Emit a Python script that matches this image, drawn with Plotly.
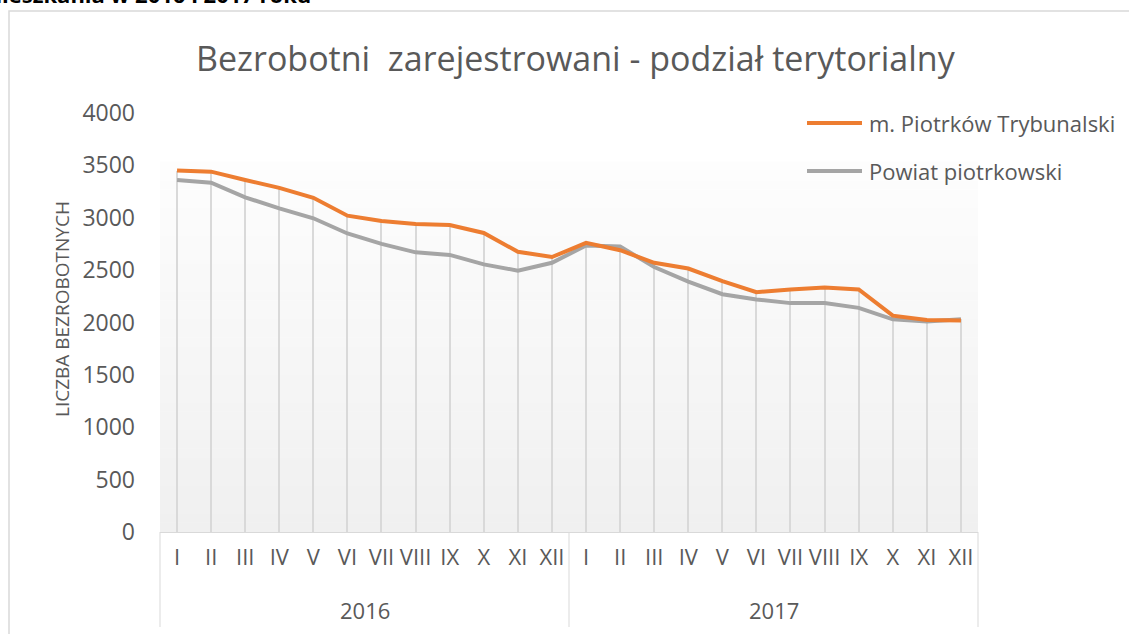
import plotly.graph_objects as go

# ---------------- data ----------------
years = ["2016"] * 12 + ["2017"] * 12
months = ["I", "II", "III", "IV", "V", "VI", "VII", "VIII", "IX", "X", "XI", "XII"] * 2
piotrkow = [3450, 3440, 3360, 3285, 3190, 3020, 2970, 2940, 2930, 2855, 2675, 2625,
            2760, 2690, 2570, 2515, 2395, 2290, 2315, 2335, 2315, 2065, 2025, 2020]
powiat = [3360, 3335, 3195, 3090, 2995, 2850, 2750, 2670, 2645, 2555, 2495, 2570,
          2735, 2725, 2530, 2390, 2270, 2220, 2185, 2185, 2140, 2030, 2010, 2030]
series_names = ["m. Piotrków Trybunalski", "Powiat piotrkowski"]
y_ticks = [0, 500, 1000, 1500, 2000, 2500, 3000, 3500, 4000]
title_text = "Bezrobotni  zarejestrowani - podział terytorialny"
y_title = "LICZBA BEZROBOTNYCH"
top_text = "Bezrobotni według miejsca zamieszkania w 2016 i 2017 roku"

# ---------------- style ----------------
ORANGE = "#ED7D31"
GRAY = "#A5A5A5"
TXT = "#595959"
GRID = "#D9D9D9"
FONT = "Open Sans"

W, H = 1129, 634
L, R, T, B = 160, 151, 113, 102
pw, ph = W - L - R, H - T - B


def px_x(px):
    return (px - L) / pw


def px_y(py):
    return (H - B - py) / ph


fig = go.Figure()

# unique category keys, shown with month labels
keys = [f"{m} {y}" for m, y in zip(months, years)]
ncat = len(keys)
drop = [max(a, b) for a, b in zip(piotrkow, powiat)]

# drop lines (from the highest point of each category down to the axis)
fig.add_trace(go.Bar(x=keys, y=drop, width=0.035, marker=dict(color=GRID, line=dict(width=0)),
                     hoverinfo="skip", showlegend=False))

fig.add_trace(go.Scatter(x=keys, y=powiat, mode="lines", name=series_names[1],
                         line=dict(color=GRAY, width=4), showlegend=False))
fig.add_trace(go.Scatter(x=keys, y=piotrkow, mode="lines", name=series_names[0],
                         line=dict(color=ORANGE, width=4), showlegend=False))

shapes = []
# plot-area gradient (white at top -> light grey at bottom)
n = 40
top_p = px_y(162)
for i in range(n):
    y0 = top_p * i / n
    y1 = top_p * (i + 1) / n
    t = i / (n - 1)  # 0 at bottom, 1 at top
    c = int(round(240 + (253 - 240) * t))
    shapes.append(dict(type="rect", xref="paper", yref="paper", x0=0, x1=1, y0=y0, y1=y1 + 0.001,
                       fillcolor=f"rgb({c},{c},{c})", line=dict(width=0), layer="below"))

# chart border
shapes.append(dict(type="rect", xref="paper", yref="paper",
                   x0=px_x(9), x1=px_x(1140), y0=px_y(645), y1=px_y(11),
                   line=dict(color=GRID, width=1.5), fillcolor="rgba(0,0,0,0)"))

# year groups: dividers and centred labels
groups = []
for i, yv in enumerate(years):
    if not groups or groups[-1][0] != yv:
        groups.append([yv, i, i])
    else:
        groups[-1][2] = i
bounds = sorted({g[1] for g in groups} | {groups[-1][2] + 1})
for b in bounds:
    xp = b / ncat
    shapes.append(dict(type="line", xref="paper", yref="paper", x0=xp, x1=xp,
                       y0=px_y(627), y1=0, line=dict(color=GRID, width=1)))

# custom legend lines
for i, (nm, col) in enumerate(zip(series_names, [ORANGE, GRAY])):
    yy = px_y(123 + 48 * i)
    shapes.append(dict(type="line", xref="paper", yref="paper",
                       x0=px_x(807), x1=px_x(862), y0=yy, y1=yy,
                       line=dict(color=col, width=4)))

annotations = [
    dict(text=title_text, x=px_x(576), y=px_y(58), xref="paper", yref="paper",
         showarrow=False, xanchor="center", yanchor="middle",
         font=dict(family=FONT, size=34, color=TXT)),
    dict(text=y_title, x=px_x(62), y=px_y(309), xref="paper", yref="paper",
         showarrow=False, textangle=-90, xanchor="center", yanchor="middle",
         font=dict(family=FONT, size=19, color=TXT)),
    dict(text="<b>" + top_text + "</b>", x=px_x(313), y=px_y(-6), xref="paper", yref="paper",
         showarrow=False, xanchor="right", yanchor="middle",
         font=dict(family=FONT, size=22, color="#000000")),
]
for g in groups:
    annotations.append(dict(text=g[0], x=((g[1] + g[2]) / 2 + 0.5) / ncat, y=px_y(610),
                            xref="paper", yref="paper", showarrow=False,
                            xanchor="center", yanchor="middle",
                            font=dict(family=FONT, size=22, color=TXT)))
for i, nm in enumerate(series_names):
    annotations.append(dict(text=nm, x=px_x(867), y=px_y(123 + 48 * i), xref="paper", yref="paper",
                            showarrow=False, xanchor="left", yanchor="middle",
                            font=dict(family=FONT, size=22, color=TXT)))

fig.update_layout(
    width=W, height=H, autosize=False,
    margin=dict(l=L, r=R, t=T, b=B, pad=0),
    paper_bgcolor="white", plot_bgcolor="white",
    showlegend=False,
    shapes=shapes, annotations=annotations,
    bargap=0,
    font=dict(family=FONT, color=TXT),
)
fig.update_xaxes(
    type="category", categoryorder="array", categoryarray=keys,
    tickvals=keys, ticktext=months, range=[-0.5, ncat - 0.5],
    showgrid=False, zeroline=False,
    showline=True, linecolor=GRID, linewidth=1,
    ticks="", tickangle=0, ticklabelstandoff=6,
    tickfont=dict(family=FONT, size=22, color=TXT),
)
fig.update_yaxes(
    range=[0, 4000], tickvals=y_ticks, showgrid=False, zeroline=False, showline=False,
    ticks="", ticklabelstandoff=24,
    tickfont=dict(family=FONT, size=23, color=TXT),
)

fig.write_html("out.html", config={"displayModeBar": False},
               post_script="document.body.style.margin='0px';document.body.style.overflow='hidden';")
